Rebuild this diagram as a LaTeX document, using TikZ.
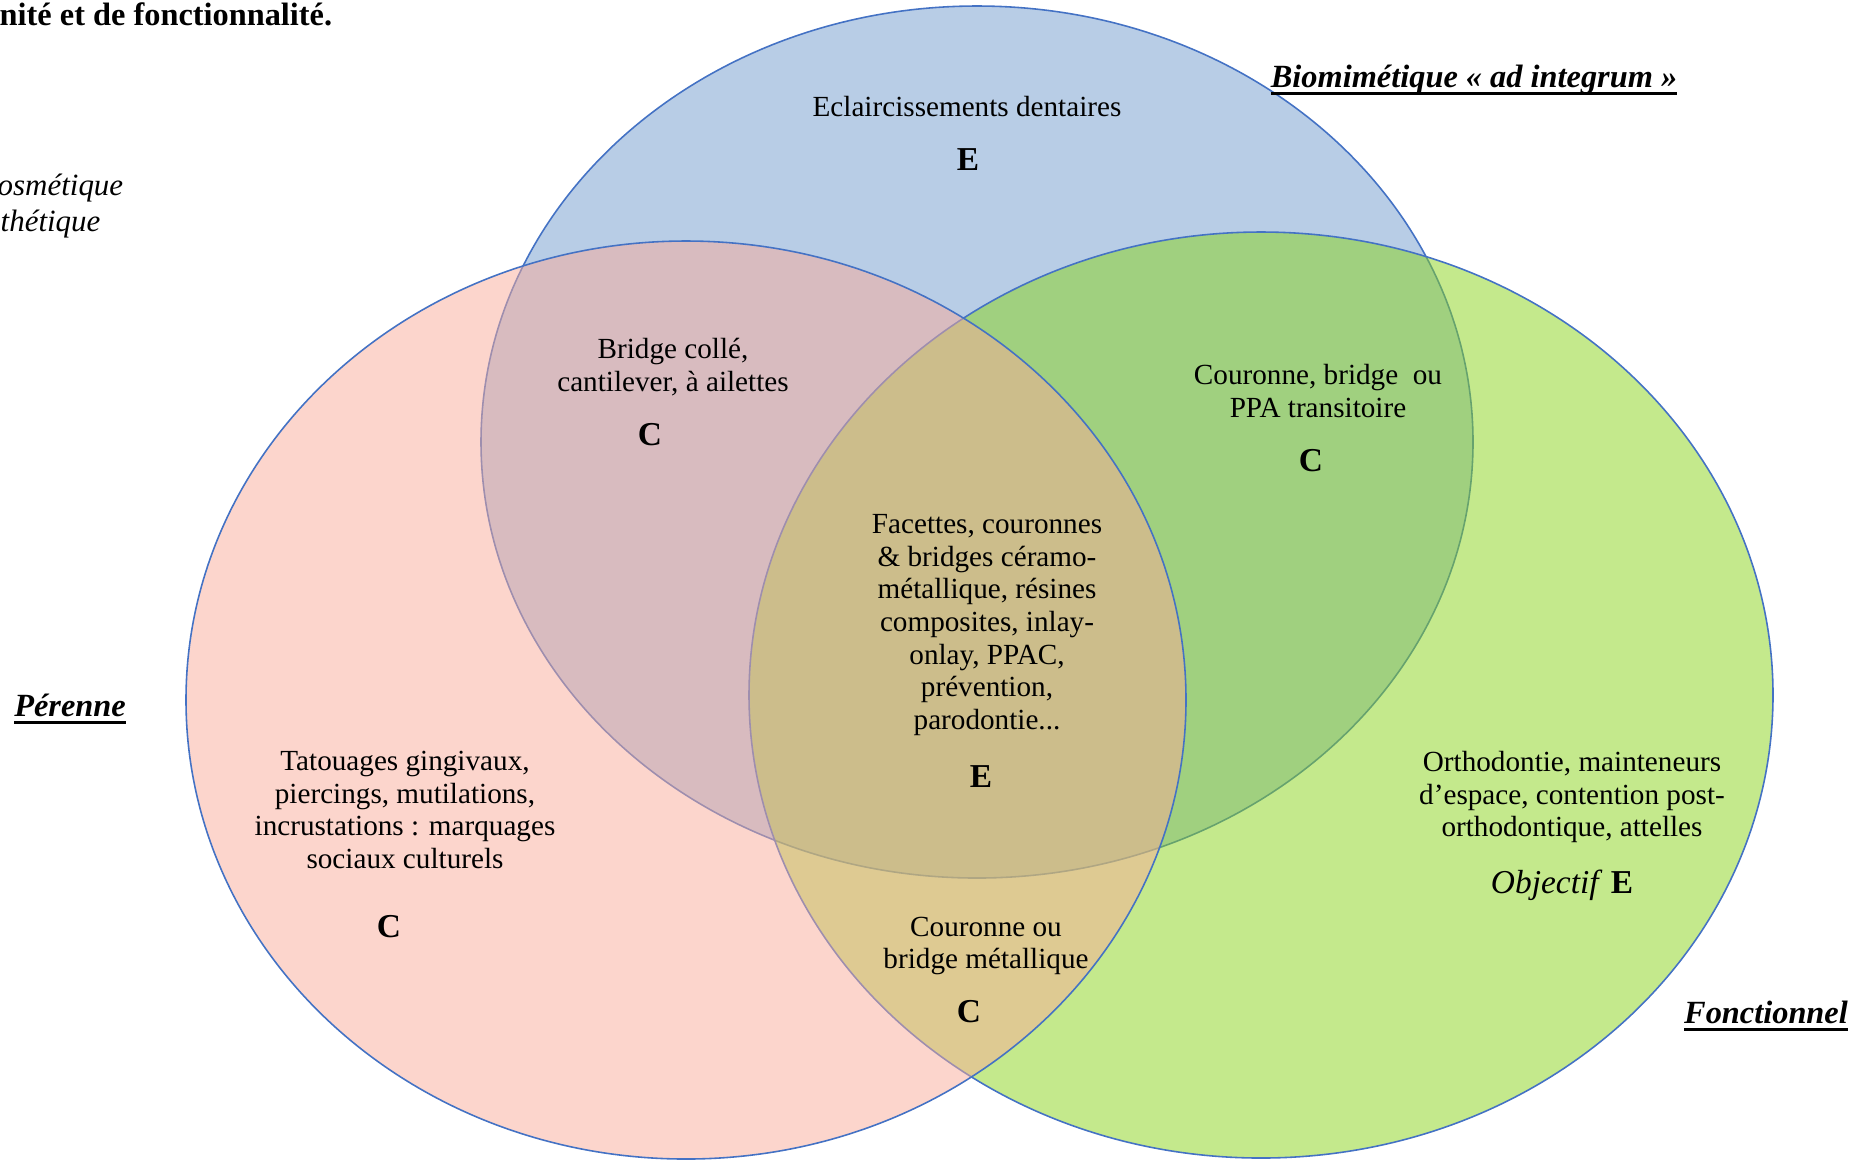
\documentclass[tikz,border=0pt]{standalone}
\usepackage{fontspec}
\setmainfont{Liberation Serif}
\definecolor{vennbleu}{RGB}{113,155,205}
\definecolor{vennvert}{RGB}{137,211,25}
\definecolor{vennrose}{RGB}{249,171,153}
\definecolor{venntrait}{RGB}{68,114,196}
\newcommand{\souligne}[1]{\setbox0\hbox{#1}\rlap{\rule[-2.4pt]{\wd0}{1.1pt}}\box0}
\tikzset{zone/.style={draw=venntrait, line width=0.45pt, fill opacity=0.5}}
\tikzset{txt/.style={align=center, inner sep=0pt, font=\fontsize{8.3}{9.25}\selectfont}}
\tikzset{lettre/.style={inner sep=0pt, font=\fontsize{9.5}{11}\selectfont\bfseries}}
\tikzset{titre/.style={inner sep=0pt, font=\fontsize{9.2}{11}\selectfont\bfseries\itshape}}
\tikzset{marge/.style={inner sep=0pt, anchor=west, font=\fontsize{8.8}{11}\selectfont\itshape}}

\begin{document}
\begin{tikzpicture}[x=0.01cm, y=-0.01cm]
\useasboundingbox (0,0) rectangle (1867,1159);

\draw[zone, fill=vennbleu] (977,442) ellipse [x radius=496, y radius=436];
\draw[zone, fill=vennvert] (1261,695) ellipse [x radius=512, y radius=463];
\draw[zone, fill=vennrose] (686,700) ellipse [x radius=500, y radius=459];

\node (haut) [marge, font=\fontsize{9.2}{11}\selectfont\bfseries] at (-1,14) {nité et de fonctionnalité.};
\node (cosm) [marge] at (-3,188) {osmétique};
\node (esth) [marge] at (0,224) {thétique};

\node (perenne) [titre] at (70,709) {\souligne{Pérenne}};
\node (biomim) [titre] at (1474,80) {\souligne{Biomimétique « ad integrum »}};
\node (fonct) [titre] at (1766,1016) {\souligne{Fonctionnel}};

\node (eclair) [txt] at (967,106) {Eclaircissements dentaires};
\node (eclairE) [lettre] at (968,160) {E};

\node (bridge) [txt] at (673,367) {Bridge collé,\\cantilever, à ailettes};
\node (bridgeC) [lettre] at (650,435) {C};

\node (couronne) [txt] at (1318,391) {Couronne, bridge \ ou\\PPA transitoire};
\node (couronneC) [lettre] at (1311,461) {C};

\node (facettes) [txt] at (987,625) {Facettes, couronnes\\\& bridges céramo-\\métallique, résines\\composites, inlay-\\onlay, PPAC,\\prévention,\\parodontie...};
\node (facettesE) [lettre] at (981,777) {E};

\node (tatouages) [txt] at (405,810) {Tatouages gingivaux,\\piercings, mutilations,\\incrustations : marquages\\sociaux culturels};
\node (tatouagesC) [lettre] at (389,927) {C};

\node (metal) [txt] at (986,946) {Couronne ou\\bridge métallique};
\node (metalC) [lettre] at (969,1012) {C};

\node (ortho) [txt] at (1572,797) {Orthodontie, mainteneurs\\d’espace, contention post-\\orthodontique, attelles};
\node (orthoE) [lettre] at (1562,885) {\textmd{\itshape Objectif} E};
\end{tikzpicture}
\end{document}
